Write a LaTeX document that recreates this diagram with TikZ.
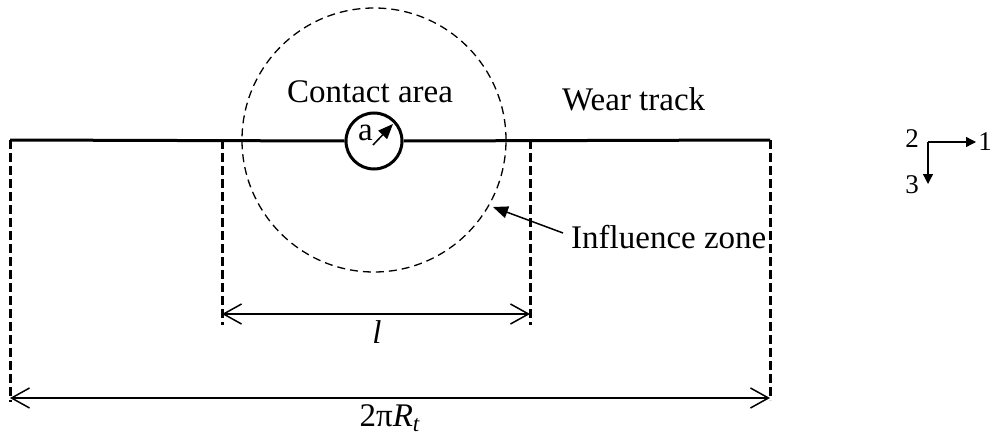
\documentclass[tikz,border=0pt]{standalone}
\usepackage{fontspec}
\setmainfont{Liberation Serif}
\usetikzlibrary{arrows.meta}
\begin{document}
\begin{tikzpicture}[x=1pt,y=-1pt,
  thickline/.style={line width=3pt},
  vdash/.style={line width=3pt, dash pattern=on 9pt off 4pt},
  cdash/.style={line width=1.3pt, dash pattern=on 8pt off 5pt},
  dimline/.style={line width=1.3pt,
    {Straight Barb[length=18pt,width=20pt,line width=1.5pt]}-{Straight Barb[length=18pt,width=20pt,line width=1.5pt]}},
  lbl/.style={font=\fontsize{33}{40}\selectfont, inner sep=0pt},
  small/.style={font=\fontsize{27}{32}\selectfont, inner sep=0pt},
  fillarrow/.style={line width=1.5pt,-{Triangle[length=15pt,width=12pt]}},
  axarrow/.style={line width=1.3pt,-{Triangle[length=10pt,width=10pt]}}
]
\useasboundingbox (0,0) rectangle (1000,436);

% wear track line and contact circle
\coordinate (L) at (10,140);
\coordinate (R) at (770,140);
\node[circle, draw, line width=3pt, minimum size=56pt, inner sep=0pt] (ca) at (374,141) {};
\draw[thickline] (L) -- (ca.west);
\draw[thickline] (ca.east) -- (R);
\node[lbl, anchor=base west] (a) at (358,140) {a};
\coordinate (a1) at (373,145);
\coordinate (a2) at (393,124);
\draw[fillarrow] (a1) -- (a2);

% influence zone
\node[circle, draw, cdash, minimum size=264pt, inner sep=0pt] (zone) at (374,140) {};

% vertical dashed lines
\coordinate (v1t) at (10,140);  \coordinate (v1b) at (10,402);
\coordinate (v2t) at (222,140); \coordinate (v2b) at (222,325);
\coordinate (v3t) at (530,140); \coordinate (v3b) at (530,325);
\coordinate (v4t) at (770,140); \coordinate (v4b) at (770,400);
\draw[vdash] (v1t) -- (v1b);
\draw[vdash] (v2t) -- (v2b);
\draw[vdash] (v3t) -- (v3b);
\draw[vdash] (v4t) -- (v4b);

% dimensions
\coordinate (d1l) at (222,314); \coordinate (d1r) at (530,314);
\coordinate (d2l) at (10,398);  \coordinate (d2r) at (770,398);
\draw[dimline] (d1l) -- (d1r);
\draw[dimline] (d2l) -- (d2r);
\node[lbl, font=\fontsize{33}{40}\selectfont\itshape] (l) at (377,332) {l};
\node[lbl] (circ) at (390,418) {2π\textit{R}\textsubscript{\textit{t}}};

% labels
\node[lbl, anchor=base] (contact) at (370,102) {Contact area};
\node[lbl, anchor=base west] (wear) at (562,110) {Wear track};
\node[lbl, anchor=base west] (infl) at (571,248) {Influence zone};
\coordinate (it) at (563,233);
\coordinate (ih) at (493,207);
\draw[fillarrow] (it) -- (ih);

% axes
\coordinate (o) at (928,142);
\coordinate (x1) at (976,142);
\coordinate (x3) at (928,184);
\draw[axarrow] (o) -- (x1);
\draw[axarrow] (o) -- (x3);
\node[small] (n2) at (912,139) {2};
\node[small] (n1) at (985,142) {1};
\node[small] (n3) at (912,185) {3};
\end{tikzpicture}
\end{document}
